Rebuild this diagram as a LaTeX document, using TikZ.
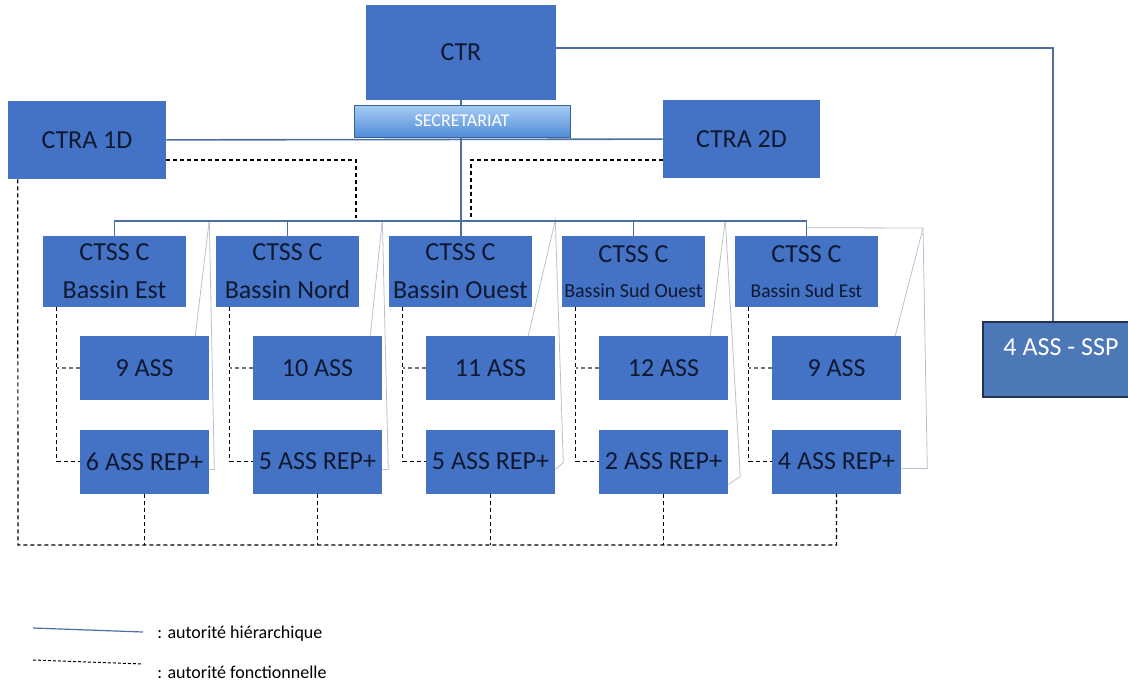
\documentclass[tikz,border=0pt]{standalone}
\usepackage{fontspec}
\setmainfont{Carlito}
\usepackage{tikz}
\usetikzlibrary{positioning}

\definecolor{boxblue}{RGB}{68,114,196}
\definecolor{lineblue}{RGB}{75,110,165}
\definecolor{boxtext}{RGB}{15,25,50}
\definecolor{sspblue}{RGB}{76,120,184}
\definecolor{sspborder}{RGB}{35,50,80}
\definecolor{secrtop}{RGB}{168,205,245}
\definecolor{secrbot}{RGB}{80,140,215}
\definecolor{palegray}{RGB}{185,192,208}

\begin{document}
\begin{tikzpicture}[x=1pt,y=-1pt,node distance=173pt,semithick]
	\tikzstyle{bloc}=[rectangle,fill=boxblue,draw=none,text=boxtext,inner sep=0pt,
										align=center,font=\fontsize{26}{38}\selectfont]
	\tikzstyle{ctss}=[bloc,minimum width=143pt,minimum height=71pt]
	\tikzstyle{ass}=[bloc,minimum width=129pt,minimum height=64pt]
	\tikzstyle{hier}=[draw=lineblue,line width=1.6pt]
	\tikzstyle{fonc}=[draw=black,line width=1.2pt,dash pattern=on 4pt off 3pt]
	\tikzstyle{fonc clair}=[fonc,draw=black!55]
	\tikzstyle{pale}=[draw=palegray,line width=0.8pt]
	\tikzstyle{legende}=[anchor=west,inner sep=0pt,font=\fontsize{18}{22}\selectfont]

	\useasboundingbox (0,0) rectangle (1128,683);

	% direction
	\node[bloc,minimum width=190pt,minimum height=95pt] (ctr) at (461,52.5) {CTR};
	\node[rectangle,draw=secrbot!70!black,line width=0.6pt,top color=secrtop,bottom color=secrbot,
				text=white,minimum width=216pt,minimum height=32pt,inner sep=0pt,
				font=\fontsize{18}{22}\selectfont] (secr) at (462,121) {SECRETARIAT};
	\node[bloc,minimum width=158pt,minimum height=78pt] (ctra1) at (87,140) {CTRA 1D};
	\node[bloc,minimum width=157pt,minimum height=78pt] (ctra2) at (741.5,139) {CTRA 2D};
	\node[rectangle,fill=sspblue,draw=sspborder,line width=1.2pt,text=white,inner sep=0pt,
				minimum width=156pt,text height=33pt,text depth=42pt,
				font=\fontsize{26}{30}\selectfont] (ssp) at (1061,359.5) {4 ASS - SSP};

	% bassins
	\node[ctss] (est) at (114.5,271.5) {CTSS C\\Bassin Est};
	\node[ctss] (nord) [right of=est] {CTSS C\\Bassin Nord};
	\node[ctss] (ouest) [right of=nord] {CTSS C\\Bassin Ouest};
	\node[ctss,font=\fontsize{26}{35}\selectfont] (sudouest) [right of=ouest]
		{CTSS C\\{\fontsize{20}{35}\selectfont Bassin Sud Ouest}};
	\node[ctss,font=\fontsize{26}{35}\selectfont] (sudest) [right of=sudouest]
		{CTSS C\\{\fontsize{19.5}{35}\selectfont Bassin Sud Est}};

	\node[ass] (a1) at (144.5,368) {9 ASS};
	\node[ass] (a2) [right of=a1] {10 ASS};
	\node[ass] (a3) [right of=a2] {11 ASS};
	\node[ass] (a4) [right of=a3] {12 ASS};
	\node[ass] (a5) [right of=a4] {9 ASS};

	\node[ass] (r1) at (144.5,461.5) {6 ASS REP+};
	\node[ass] (r2) [right of=r1] {5 ASS REP+};
	\node[ass] (r3) [right of=r2] {5 ASS REP+};
	\node[ass] (r4) [right of=r3] {2 ASS REP+};
	\node[ass] (r5) [right of=r4] {4 ASS REP+};

	\coordinate (bus) at (0,220);
	\coordinate (base) at (18,545);
	\coordinate (f1) at (356,218);
	\coordinate (f2) at (471,218);
	\coordinate (coin) at (923,228);

	% traits pales
	\draw[pale] ([xshift=-14pt]a1.north east) -- (a1.north east |- bus)
		-- ([shift={(5pt,-8pt)}]r1.east) -- ([yshift=-8pt]r1.east);
	\draw[pale] ([xshift=-12pt]a2.north east) -- (a2.north east |- bus)
		-- ([shift={(6pt,-8pt)}]r2.east) -- ([yshift=-8pt]r2.east);
	\draw[pale] ([xshift=-27pt]a3.north east) -- (a3.north east |- bus)
		-- ([shift={(8pt,-1pt)}]r3.east) -- ([yshift=-8pt]r3.east);
	\draw[pale] ([xshift=-18pt]a4.north east) -- ([xshift=-3pt]a4.north east |- bus)
		-- ([shift={(12pt,-15pt)}]r4.east) -- ([yshift=-23pt]r4.east);
	\draw[pale] ([yshift=8pt]sudest.north) -- (coin) -- ([xshift=-6pt]a5.north east);
	\draw[pale] (coin) -- ([shift={(26pt,-7pt)}]r5.east) -- ([yshift=-7pt]r5.east);

	% autorite hierarchique
	\draw[hier] ([yshift=4.5pt]ctr.east) -| ([xshift=-8pt]ssp.north);
	\draw[hier] (ctr.south) -- (ctr.south |- secr.north);
	\draw[hier] (ctr.south |- secr.south) -- (ctr.south |- ouest.north);
	\draw[hier] (ctra1) -- (ctra2);
	\draw[hier] (est.north) -- ++(0,-15) -| (sudest.north);
	\draw[hier] (nord.north) -- ++(0,-15);
	\draw[hier] (sudouest.north) -- ++(0,-15);

	% autorite fonctionnelle
	\draw[fonc] ([yshift=-20pt]ctra1.east) -| (f1);
	\draw[fonc] ([yshift=-21pt]ctra2.west) -| (f2);
	\draw[fonc] ([xshift=10pt]ctra1.south west) -- (base) -| (r5.south);
	\draw[fonc] (r1.south) -- (r1.south |- base);
	\draw[fonc] (r2.south) -- (r2.south |- base);
	\draw[fonc] (r3.south) -- (r3.south |- base);
	\draw[fonc] (r4.south) -- (r4.south |- base);

	\draw[fonc] ([xshift=14pt]est.south west) |- (r1.west);
	\draw[fonc] ([xshift=14pt]nord.south west) |- (r2.west);
	\draw[fonc] ([xshift=14pt]ouest.south west) |- (r3.west);
	\draw[fonc] ([xshift=14pt]sudouest.south west) |- (r4.west);
	\draw[fonc] ([xshift=14pt]sudest.south west) |- (r5.west);
	\draw[fonc clair] (a1.west) -- ++(-23,0);
	\draw[fonc clair] (a2.west) -- ++(-23,0);
	\draw[fonc clair] (a3.west) -- ++(-23,0);
	\draw[fonc clair] (a4.west) -- ++(-23,0);
	\draw[fonc clair] (a5.west) -- ++(-23,0);

	% legende
	\coordinate (lh1) at (33,628);
	\coordinate (lh2) at (143,632);
	\coordinate (lf1) at (33,660);
	\coordinate (lf2) at (143,664);
	\node[legende] (lhier) at (157,634) {: autorité hiérarchique};
	\node[legende] (lfonc) at (157,672) {: autorité fonctionnelle};
	\draw[hier,line width=1.2pt] (lh1) -- (lh2);
	\draw[fonc,line width=1pt,dash pattern=on 3pt off 2pt] (lf1) -- (lf2);
\end{tikzpicture}
\end{document}
